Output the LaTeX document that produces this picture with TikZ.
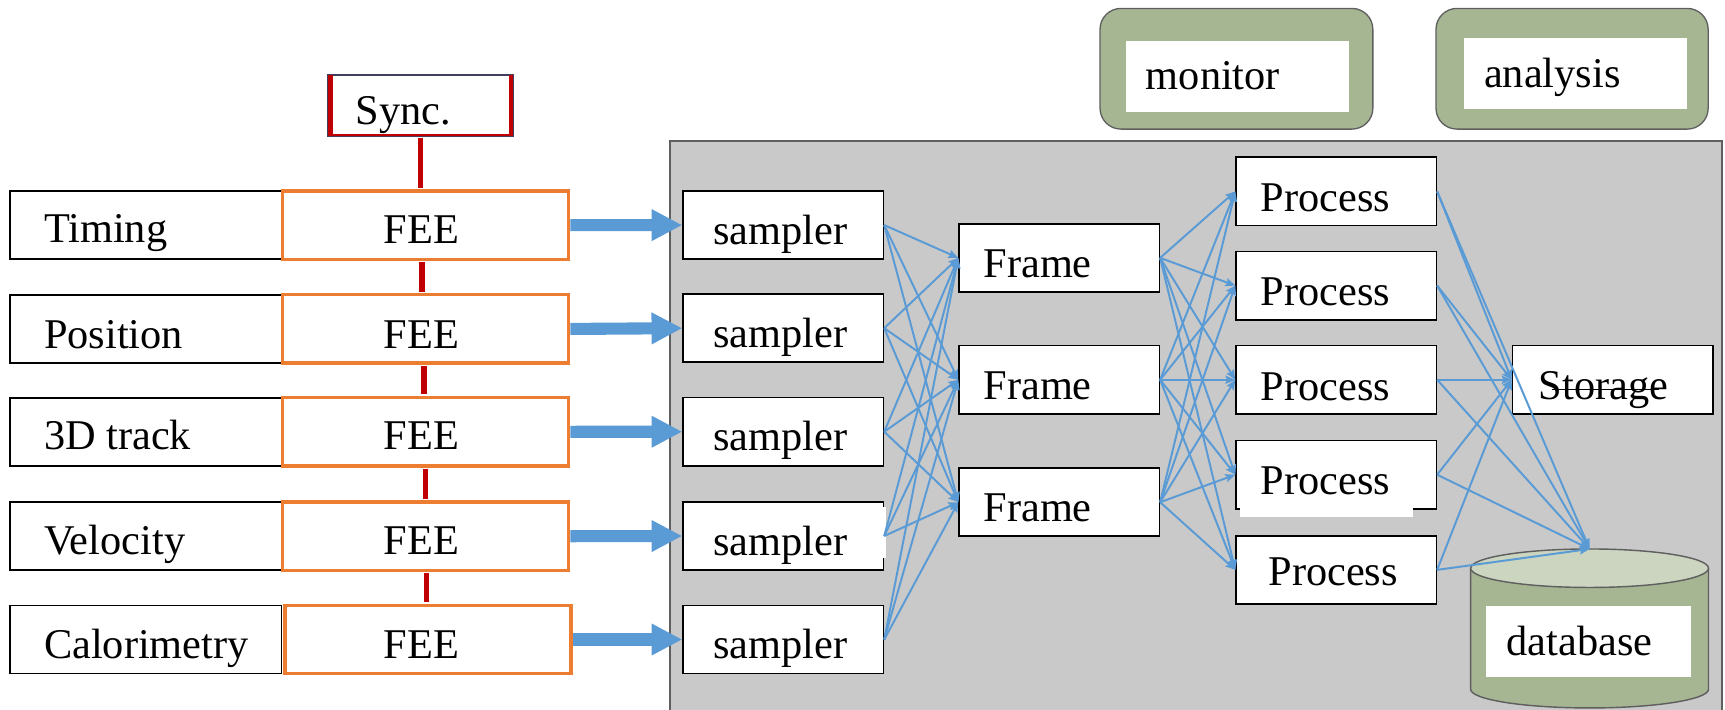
\documentclass[tikz,border=0pt]{standalone}
\usepackage{fontspec}
\setmainfont{Liberation Serif}
\usetikzlibrary{arrows.meta}

\definecolor{bgray}{RGB}{201,201,201}
\definecolor{edgegray}{RGB}{95,95,95}
\definecolor{feeorange}{RGB}{237,125,49}
\definecolor{linkblue}{RGB}{91,155,213}
\definecolor{syncred}{RGB}{192,0,0}
\definecolor{syncedge}{RGB}{63,63,95}
\definecolor{olive}{RGB}{166,181,146}
\definecolor{olivelight}{RGB}{203,213,192}

\begin{document}
\begin{tikzpicture}[x=1pt,y=-1pt,
  txt/.style={font=\fontsize{38.5}{46}\selectfont, inner sep=0pt, anchor=base west},
  labbox/.style={draw=black, line width=1.5pt, fill=white, inner sep=0pt,
                 minimum width=247pt, minimum height=62pt},
  feebox/.style={draw=feeorange, line width=3pt, fill=white, inner sep=0pt,
                 minimum width=260pt, minimum height=62pt},
  stage/.style={draw=black, line width=1.5pt, fill=white, inner sep=0pt,
                minimum width=182pt, minimum height=62pt},
  panel/.style={draw=edgegray, line width=1.2pt, fill=olive, rounded corners=19pt,
                inner sep=0pt, minimum width=248pt, minimum height=109.7pt},
  whitecard/.style={fill=white, inner sep=0pt},
  syncline/.style={syncred, line width=5pt, shorten <=1pt, shorten >=1.5pt},
  feed/.style={linkblue, line width=11pt, -{Triangle[length=28pt,width=27pt]}},
  link/.style={linkblue, line width=1.8pt, -{Stealth[length=9pt,width=7.5pt,inset=1.5pt]}}
]
\useasboundingbox (0,0) rectangle (1568,645);

% processing farm background
\fill[bgray] (609,128) rectangle (1565,700);
\draw[edgegray, line width=1.5pt] (609,700) -- (609,128) -- (1565,128) -- (1565,700);

% monitor / analysis panels
\node[panel] (monp) at (1123.9,62.5) {};
\node[whitecard, minimum width=202.8pt, minimum height=64.2pt] (monw) at (1125,69.4) {};
\node[txt] (t-mon) at ([shift={(18pt,-12.4pt)}]monw.west) {monitor};
\node[panel, minimum width=247.4pt] (anap) at (1429,62.5) {};
\node[whitecard, minimum width=203.1pt, minimum height=64.3pt] (anaw) at (1432.3,67) {};
\node[txt] (t-ana) at ([shift={(18.3pt,-12.4pt)}]anaw.west) {analysis};

% detector rows: label box + front-end electronics
\node[labbox] (lab1) at (132.5,204.7) {};
\node[labbox] (lab2) at (132.5,299.0) {};
\node[labbox] (lab3) at (132.5,392.5) {};
\node[labbox] (lab4) at (132.5,487.4) {};
\node[labbox] (lab5) at (132.5,581.3) {};
\node[feebox] (fee1) at (387,204.7) {};
\node[feebox] (fee2) at (387,299.0) {};
\node[feebox] (fee3) at (387,392.5) {};
\node[feebox] (fee4) at (387,487.4) {};
\node[feebox] (fee5) at (389,581.3) {};

\node[txt] (t-lab1) at ([shift={(31.6pt,-16pt)}]lab1.west) {Timing};
\node[txt] (t-lab2) at ([shift={(31.6pt,-17.7pt)}]lab2.west) {Position};
\node[txt] (t-lab3) at ([shift={(31.6pt,-16.5pt)}]lab3.west) {3D track};
\node[txt] (t-lab4) at ([shift={(31.6pt,-16.3pt)}]lab4.west) {Velocity};
\node[txt] (t-lab5) at ([shift={(31.6pt,-17.2pt)}]lab5.west) {Calorimetry};
\node[txt, anchor=base] (t-fee1) at ([shift={(-4pt,-16.5pt)}]fee1.center) {FEE};
\node[txt, anchor=base] (t-fee2) at ([shift={(-4pt,-17.7pt)}]fee2.center) {FEE};
\node[txt, anchor=base] (t-fee3) at ([shift={(-4pt,-16.5pt)}]fee3.center) {FEE};
\node[txt, anchor=base] (t-fee4) at ([shift={(-4pt,-16.3pt)}]fee4.center) {FEE};
\node[txt, anchor=base] (t-fee5) at ([shift={(-6pt,-17.2pt)}]fee5.center) {FEE};

% synchronisation box
\node[draw=syncedge, line width=1.2pt, fill=white, inner sep=0pt,
      minimum width=169pt, minimum height=55.4pt] (sync) at (382.1,95.9) {};
\draw[syncred, line width=5pt] ([xshift=3.5pt,yshift=-1pt]sync.north west) -- ([xshift=3.5pt,yshift=1pt]sync.south west);
\draw[syncred, line width=4pt] ([xshift=-2.6pt,yshift=-1pt]sync.north east) -- ([xshift=-2.6pt,yshift=1pt]sync.south east);
\draw[syncred, line width=2.5pt] ([xshift=1pt,yshift=1.6pt]sync.south west) -- ([xshift=-1pt,yshift=1.6pt]sync.south east);
\node[txt] (t-sync) at ([shift={(26pt,-17.7pt)}]sync.west) {Sync.};

% clock distribution line
\draw[syncline] (sync.south) -- (sync.south |- fee1.north);
\draw[syncline] ([xshift=-3.5pt]fee1.south) -- ([xshift=-3.5pt]fee2.north);
\draw[syncline] ([xshift=-1.5pt]fee2.south) -- ([xshift=-1.5pt]fee3.north);
\draw[syncline] ([xshift=-0.2pt]fee3.south) -- ([xshift=-0.2pt]fee4.north);
\draw[syncline] ([xshift=0.5pt]fee4.south) -- ([xshift=-1.5pt]fee5.north);

% samplers
\node[stage] (s1) at (712,204.6) {};
\node[stage] (s2) at (712,298.3) {};
\node[stage] (s3) at (712,392.4) {};
\node[stage] (s4) at (712,487.2) {};
\node[stage] (s5) at (712,581.3) {};
\fill[white] (801.5,460.6) rectangle (805,507.6);
\foreach \i in {1,...,5}
  \node[txt] (t-s\i) at ([shift={(27.7pt,-17.5pt)}]s\i.west) {sampler};

% frame builders
\node[stage] (f1) at (962.8,234.4) {};
\node[stage] (f2) at (962.8,345.2) {};
\node[stage] (f3) at (962.8,456.5) {};
\foreach \j in {1,2,3}
  \node[txt] (t-f\j) at ([shift={(22.8pt,-17.6pt)}]f\j.west) {Frame};

% processors
\node[stage] (p1) at (1214.6,174.0) {};
\node[stage] (p2) at (1214.6,259.6) {};
\node[stage] (p3) at (1214.6,345.2) {};
\node[stage] (p4) at (1214.6,431.5) {};
\node[stage] (p5) at (1214.6,518.0) {};
\fill[white] (1127,459) rectangle (1284.6,469.7);
\foreach \k in {1,...,4}
  \node[txt] (t-p\k) at ([shift={(22.8pt,-18.4pt)}]p\k.west) {Process};
\node[txt] (t-p5) at ([shift={(30pt,-13.8pt)}]p5.west) {Process};

% storage
\node[stage] (st) at (1465.8,345.2) {};
\node[txt] (t-st) at ([shift={(24.4pt,-17.5pt)}]st.west) {Storage};
\coordinate (strikeL) at ([shift={(12pt,9.1pt)}]t-st.base west);
\coordinate (strikeR) at ([shift={(109.6pt,9.1pt)}]t-st.base west);
\draw[black, line width=0.9pt] (strikeL) -- (strikeR);

% database cylinder
\path[fill=olive, draw=edgegray, line width=1.3pt]
  (1336.8,516.5) -- (1336.8,626.5)
  arc[start angle=180, end angle=360, x radius=108.1pt, y radius=17pt]
  -- (1553,516.5) -- cycle;
\draw[fill=olivelight, draw=edgegray, line width=1.3pt]
  (1444.9,516.5) ellipse[x radius=108.1pt, y radius=17.5pt];
\coordinate (dbtop) at (1444.9,499);
\node[whitecard, minimum width=186.5pt, minimum height=64pt] (dbw) at (1443.75,583) {};
\node[txt] (t-db) at ([shift={(18.9pt,-12.5pt)}]dbw.west) {database};

% data paths
\draw[feed] (fee1.east) -- (s1.west);
\draw[feed] (fee2.east) -- (s2.west);
\draw[feed] (fee3.east) -- (s3.west);
\draw[feed] (fee4.east) -- (s4.west);
\draw[feed] (fee5.east) -- (s5.west);

\foreach \i in {1,...,5}
  \foreach \j in {1,2,3}
    \draw[link] (s\i.east) -- (f\j.west);
\foreach \j in {1,2,3}
  \foreach \k in {1,...,5}
    \draw[link] (f\j.east) -- (p\k.west);
\foreach \k in {1,...,5} {
  \draw[link] (p\k.east) -- (st.west);
  \draw[link] (p\k.east) -- (dbtop);
}
\end{tikzpicture}
\end{document}
